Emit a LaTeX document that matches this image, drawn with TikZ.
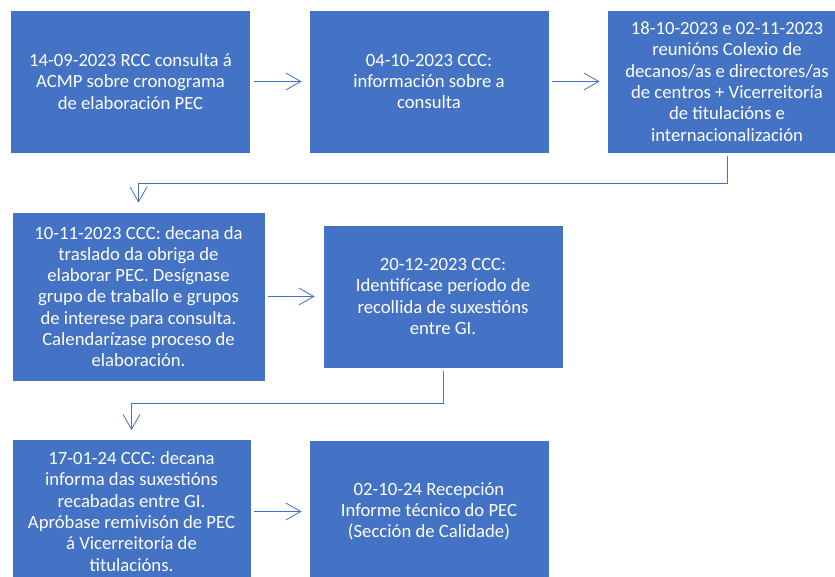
\documentclass[tikz,border=0pt]{standalone}
\usepackage{fontspec}
\setmainfont{Carlito}
\usepackage{tikz}
\usetikzlibrary{arrows.meta}

\definecolor{officeblue}{HTML}{4472C4}

\tikzset{
	stage/.style={draw=white, line width=0.8pt, fill=officeblue, text=white, align=center,
		minimum width=240pt, minimum height=143pt, inner sep=0pt,
		font=\fontsize{18.7}{21.3}\selectfont},
	link/.style={draw=officeblue, line width=0.8pt, shorten <=3pt,
		-{Straight Barb[length=15pt,width=17pt,line width=0.8pt]}}
}

\begin{document}
\begin{tikzpicture}[x=1pt,y=-1pt]
		\clip (0,0) rectangle (835,577);
		\node[stage] (s1) at (130.5,81.5) {14-09-2023 RCC consulta á\\ACMP sobre cronograma\\de elaboración PEC};
		\node[stage] (s2) at (429,81.5) {04-10-2023 CCC:\\información sobre a\\consulta};
		\node[stage] (s3) at (727,81.5) {18-10-2023 e 02-11-2023\\reunións Colexio de\\decanos/as e directores/as\\de centros + Vicerreitoría\\de titulacións e\\internacionalización};
		\node[stage, minimum width=253pt, minimum height=169pt] (s4) at (138.5,296.5) {10-11-2023 CCC: decana da\\traslado da obriga de\\elaborar PEC. Desígnase\\grupo de traballo e grupos\\de interese para consulta.\\Calendarízase proceso de\\elaboración.};
		\node[stage] (s5) at (443,296.5) {20-12-2023 CCC:\\Identifícase período de\\recollida de suxestións\\entre GI.};
		\node[stage, minimum width=239pt, minimum height=144pt] (s6) at (131.5,511.5) {17-01-24 CCC: decana\\informa das suxestións\\recabadas entre GI.\\Apróbase remivisón de PEC\\á Vicerreitoría de\\titulacións.};
		\node[stage] (s7) at (429,511.5) {02-10-24 Recepción\\Informe técnico do PEC\\(Sección de Calidade)};
		\draw[link, shorten >=7pt] (s1) -- (s2);
		\draw[link, shorten >=7pt] (s2) -- (s3);
		\draw[link, shorten >=9pt] (s3.south) -- ++(0,30) -| (s4.north);
		\draw[link, shorten >=8pt] (s4) -- (s5);
		\draw[link, shorten >=9pt] (s5.south) -- ++(0,35) -| (s6.north);
		\draw[link, shorten >=7pt] (s6) -- (s7);
	% timeline of the PEC
	\end{tikzpicture}
\end{document}
